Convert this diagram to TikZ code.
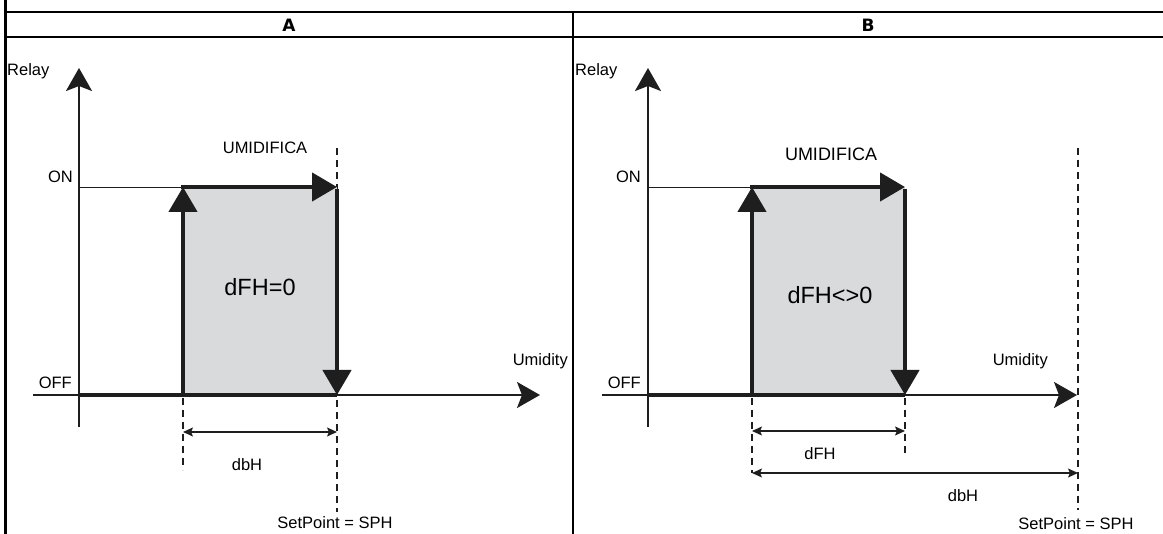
\documentclass[tikz,border=0pt]{standalone}
\usepackage{fontspec}
\setmainfont{Liberation Sans}
\newfontfamily\headfont{DejaVu Sans}
\usetikzlibrary{arrows.meta,positioning}
\definecolor{boxgray}{HTML}{D9DADC}
\definecolor{inkblack}{HTML}{1E1E1E}

\begin{document}
\begin{tikzpicture}[x=1pt,y=-1pt,>=Stealth]
\tikzstyle{frame}=[line width=2.2pt,black]
\tikzstyle{axisline}=[line width=2.4pt,inkblack,-{Stealth[length=23pt,width=26pt,inset=5pt]}]
\tikzstyle{boldline}=[line width=4.5pt,inkblack]
\tikzstyle{boldarrow}=[boldline,-{Triangle[length=25pt,width=28pt]}]
\tikzstyle{guide}=[line width=1.2pt,inkblack,dash pattern=on 7pt off 5pt]
\tikzstyle{dimarrow}=[line width=1.2pt,inkblack,{Stealth[length=10pt,width=9pt,inset=2pt]}-{Stealth[length=10pt,width=9pt,inset=2pt]}]
\tikzstyle{lbl}=[inner sep=0pt,font=\fontsize{16.5}{19}\selectfont]
\tikzstyle{biglbl}=[inner sep=0pt,font=\fontsize{23.5}{26}\selectfont]
\tikzstyle{headlbl}=[inner sep=0pt,font=\headfont\bfseries\fontsize{17}{19}\selectfont]
\useasboundingbox (0,0) rectangle (1163,534);
% table frame
\draw[frame,line width=3pt] (5,0) -- (5,534);
\draw[frame] (5,12) -- (1163,12);
\draw[frame] (5,37) -- (1163,37);
\draw[frame] (573,12) -- (573,534);
\node[headlbl] (hA) at (289,25) {A};
\node[headlbl] (hB) at (868,25) {B};
% panel A
\coordinate (oA) at (79,395);
\coordinate (onA) at (79,187);
\coordinate (lA) at (183,395);
\coordinate (ltA) at (183,187);
\coordinate (rA) at (337,395);
\coordinate (rtA) at (337,187);
\draw[guide] (183,398) -- (183,470);
\draw[guide] (337,148) -- (337,512);
\fill[boxgray] (ltA) rectangle (rA);
\draw[axisline] (79,427) -- (79,68);
\draw[axisline,line width=2pt] (33,395) -- (540,395);
\draw[boldline] (oA) -- (rA);
\draw[line width=0.9pt,inkblack] (onA) -- (ltA);
\draw[boldarrow] ([yshift=2pt]lA) -- (ltA);
\draw[boldarrow] ([xshift=-2pt]ltA) -- (rtA);
\draw[boldarrow] ([yshift=-2pt]rtA) -- (rA);
\draw[dimarrow] (183,432) -- (337,432);
\node[lbl,anchor=base west] (relayA) at (7,76) {Relay};
\node[lbl,anchor=base east] (onlA) at (73,183) {ON};
\node[lbl,anchor=base east] (offA) at (72,389) {OFF};
\node[lbl,anchor=base east] (umA) at (568,366) {Umidity};
\node[lbl,anchor=base] (umiA) at (265,154) {UMIDIFICA};
\node[biglbl] (dfhA) at (260,287) {dFH=0};
\node[lbl,anchor=base] (dbhA) at (247,471) {dbH};
\node[lbl,anchor=base] (spA) at (335,529) {SetPoint = SPH};
% panel B
\coordinate (oB) at (648,395);
\coordinate (onB) at (648,187);
\coordinate (lB) at (752,395);
\coordinate (ltB) at (752,187);
\coordinate (rB) at (905,395);
\coordinate (rtB) at (905,187);
\draw[guide] (752,398) -- (752,473);
\draw[guide] (905,398) -- (905,457);
\draw[guide] (1078,148) -- (1078,510);
\fill[boxgray] (ltB) rectangle (rB);
\draw[axisline] (648,427) -- (648,68);
\draw[axisline,line width=2pt] (602,395) -- (1077,395);
\draw[boldline] (oB) -- (rB);
\draw[line width=0.9pt,inkblack] (onB) -- (ltB);
\draw[boldarrow] ([yshift=2pt]lB) -- (ltB);
\draw[boldarrow] ([xshift=-2pt]ltB) -- (rtB);
\draw[boldarrow] ([yshift=-2pt]rtB) -- (rB);
\draw[dimarrow] (752,431) -- (905,431);
\draw[dimarrow] (752,473) -- (1078,473);
\node[lbl,anchor=base west] (relayB) at (575,76) {Relay};
\node[lbl,anchor=base east] (onlB) at (641,183) {ON};
\node[lbl,anchor=base east] (offB) at (641,389) {OFF};
\node[lbl,anchor=base east] (umB) at (1048,366) {Umidity};
\node[lbl,anchor=base,font=\fontsize{18}{21}\selectfont] (umiB) at (831,161) {UMIDIFICA};
\node[biglbl] (dfhB) at (830,295) {dFH<>0};
\node[lbl,anchor=base] (dfhlB) at (820,460) {dFH};
\node[lbl,anchor=base] (dbhB) at (963,502) {dbH};
\node[lbl,anchor=base] (spB) at (1076,530) {SetPoint = SPH};
\end{tikzpicture}
\end{document}
